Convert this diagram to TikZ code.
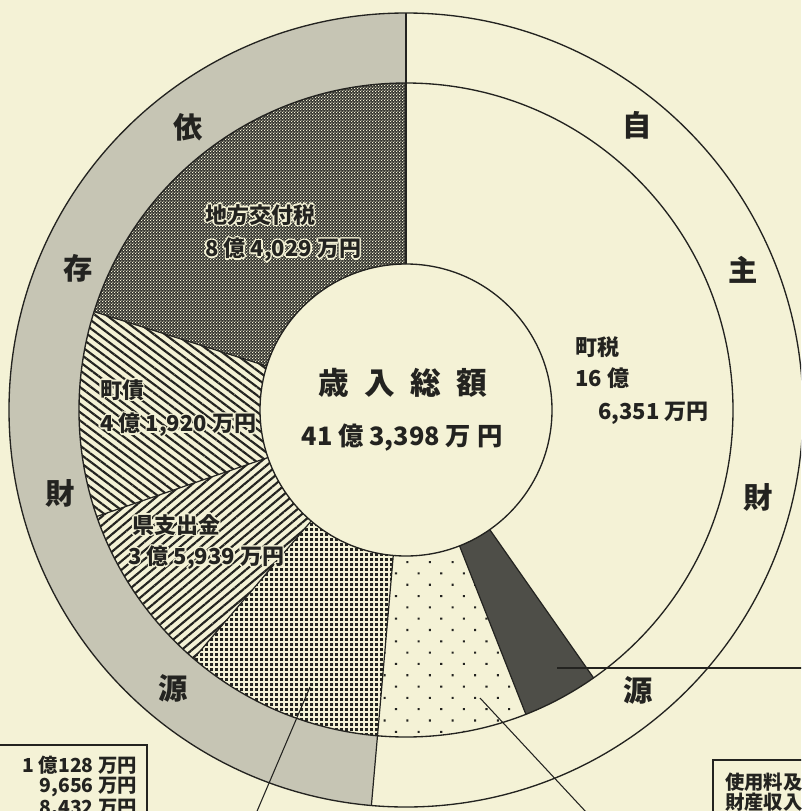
\documentclass[tikz,border=0pt]{standalone}
\usepackage{fontspec}
\setmainfont{Noto Sans CJK JP}
\usetikzlibrary{patterns,patterns.meta}
\definecolor{bgc}{RGB}{244,242,214}
\definecolor{ringgray}{RGB}{198,197,180}
\definecolor{ink}{RGB}{35,35,32}
\definecolor{wedgec}{RGB}{78,78,72}
\definecolor{chkdark}{RGB}{50,50,46}
\newcommand\halo[1]{\leavevmode
 \rlap{\color{bgc}\kern1.1pt#1}%
 \rlap{\color{bgc}\kern-1.1pt#1}%
 \rlap{\color{bgc}\raisebox{1.1pt}{#1}}%
 \rlap{\color{bgc}\raisebox{-1.1pt}{#1}}%
 \rlap{\color{bgc}\kern0.8pt\raisebox{0.8pt}{#1}}%
 \rlap{\color{bgc}\kern-0.8pt\raisebox{0.8pt}{#1}}%
 \rlap{\color{bgc}\kern0.8pt\raisebox{-0.8pt}{#1}}%
 \rlap{\color{bgc}\kern-0.8pt\raisebox{-0.8pt}{#1}}%
 #1}
\pgfdeclarepatternformonly{chk}{\pgfqpoint{0pt}{0pt}}{\pgfqpoint{2.5pt}{2.5pt}}{\pgfqpoint{2.5pt}{2.5pt}}{%
 \pgfpathrectangle{\pgfqpoint{0pt}{0pt}}{\pgfqpoint{0.95pt}{0.95pt}}%
 \pgfpathrectangle{\pgfqpoint{1.25pt}{1.25pt}}{\pgfqpoint{0.95pt}{0.95pt}}%
 \pgfusepath{fill}}
\pgfdeclarepatternformonly{sqgrid}{\pgfqpoint{0pt}{0pt}}{\pgfqpoint{3.75pt}{3.75pt}}{\pgfqpoint{3.75pt}{3.75pt}}{%
 \pgfpathrectangle{\pgfqpoint{0pt}{0pt}}{\pgfqpoint{2.5pt}{2.5pt}}%
 \pgfusepath{fill}}
\def\Ro{297.75pt}
\def\Rm{245.25pt}
\def\Ri{109.5pt}
\newcommand\ringpart[5]{\path[#1] ([shift={(#2:#5)}]C) arc[start angle=#2,end angle=#3,radius=#5] -- ([shift={(#3:#4)}]C) arc[start angle=#3,end angle=#2,radius=#4] -- cycle;}
\tikzset{
 outl/.style={draw=ink, line width=1pt},
 radl/.style={draw=ink, line width=0.9pt},
 callout/.style={draw=ink, line width=0.8pt},
 boxframe/.style={draw=ink, line width=0.8pt},
 bigch/.style={text=ink, font=\fontsize{22pt}{22pt}\selectfont\bfseries, inner sep=0pt},
 lbl/.style={text=ink, font=\fontsize{16.5pt}{16.5pt}\selectfont\bfseries, inner sep=0pt, anchor=west},
 boxtxt/.style={text=ink, font=\fontsize{14.5pt}{14.5pt}\selectfont\bfseries, inner sep=0pt},
}
\begin{document}
\begin{tikzpicture}[x=0.75pt,y=-0.75pt]
\useasboundingbox (0,0) rectangle (801,811);
\clip (0,0) rectangle (801,811);
\fill[bgc] (0,0) rectangle (801,811);
\coordinate (C) at (406,410);
% outer ring (dependent sources)
\ringpart{fill=ringgray}{90}{265}{\Rm}{\Ro}
% inner ring segments
\ringpart{fill=chkdark}{90}{162.5}{\Ri}{\Rm}
\ringpart{pattern=chk,pattern color=bgc}{90}{162.5}{\Ri}{\Rm}
\ringpart{pattern={Lines[angle=-37,distance=5pt,line width=1.6pt]},pattern color=ink}{162.5}{199}{\Ri}{\Rm}
\ringpart{pattern={Lines[angle=40,distance=5pt,line width=1.6pt]},pattern color=ink}{199}{229.5}{\Ri}{\Rm}
\ringpart{pattern=sqgrid,pattern color=ink}{229.5}{265}{\Ri}{\Rm}
\ringpart{pattern={Dots[angle=45,distance=12pt,radius=1.1pt]},pattern color=ink}{265}{291.5}{\Ri}{\Rm}
\ringpart{fill=wedgec}{291.5}{305}{\Ri}{\Rm}
% circles
\draw[outl] (C) circle[radius=\Ro];
\draw[outl] (C) circle[radius=\Rm];
\draw[outl] (C) circle[radius=\Ri];
% radial dividers
\draw[radl] ([shift={(90:\Ri)}]C) -- ([shift={(90:\Ro)}]C);
\draw[radl] ([shift={(265:\Ri)}]C) -- ([shift={(265:\Ro)}]C);
\foreach \a in {162.5,199,229.5,291.5,305}
  \draw[radl] ([shift={(\a:\Ri)}]C) -- ([shift={(\a:\Rm)}]C);
% callout lines
\coordinate (c1a) at (310,687); \coordinate (c1b) at (249,830);
\coordinate (c2a) at (480,698); \coordinate (c2b) at (600,827);
\coordinate (c3a) at (557,668); \coordinate (c3b) at (815,668);
\draw[callout] (c1a) -- (c1b);
\draw[callout] (c2a) -- (c2b);
\draw[callout] (c3a) -- (c3b);
% outer ring characters
\node[bigch] (yo) at (188,127) {依};
\node[bigch] (son) at (78,268) {存};
\node[bigch] (zaiL) at (60,493) {財};
\node[bigch] (genL) at (173,688) {源};
\node[bigch] (ji) at (637,125) {自};
\node[bigch] (shu) at (743,270) {主};
\node[bigch] (zaiR) at (758,497) {財};
\node[bigch] (genR) at (638,690) {源};
% centre
\node[text=ink,font=\fontsize{23pt}{23pt}\selectfont\bfseries,inner sep=0pt] (title) at (403,383) {歳\hspace{0.5em}入\hspace{0.5em}総\hspace{0.5em}額};
\node[text=ink,font=\fontsize{19pt}{19pt}\selectfont\bfseries,inner sep=0pt] (total) at (402,438) {41 億 3,398 万 円};
% segment labels
\node[lbl] (kofu1) at (205,215) {\halo{地方交付税}};
\node[lbl] (kofu2) at (205,250) {\halo{8 億 4,029 万円}};
\node[lbl] (sai1) at (100,390) {\halo{町債}};
\node[lbl] (sai2) at (100,425) {\halo{4 億 1,920 万円}};
\node[lbl] (ken1) at (132,525) {\halo{県支出金}};
\node[lbl] (ken2) at (128,558) {\halo{3 億 5,939 万円}};
\node[lbl] (zei1) at (575,347) {町税};
\node[lbl] (zei2) at (575,378) {16 億};
\node[lbl] (zei3) at (598,413) {6,351 万円};
% boxes
\draw[boxframe] (-5,745) rectangle (147,840);
\node[boxtxt,anchor=east] (b1) at (137,765) {1 億128 万円};
\node[boxtxt,anchor=east] (b2) at (137,787) {9,656 万円};
\node[boxtxt,anchor=east] (b3) at (137,809) {8,432 万円};
\draw[boxframe] (713,760) rectangle (840,840);
\node[boxtxt,anchor=west] (s1) at (725,782) {使用料及};
\node[boxtxt,anchor=west] (s2) at (725,802) {財産収入};
\end{tikzpicture}
\end{document}
